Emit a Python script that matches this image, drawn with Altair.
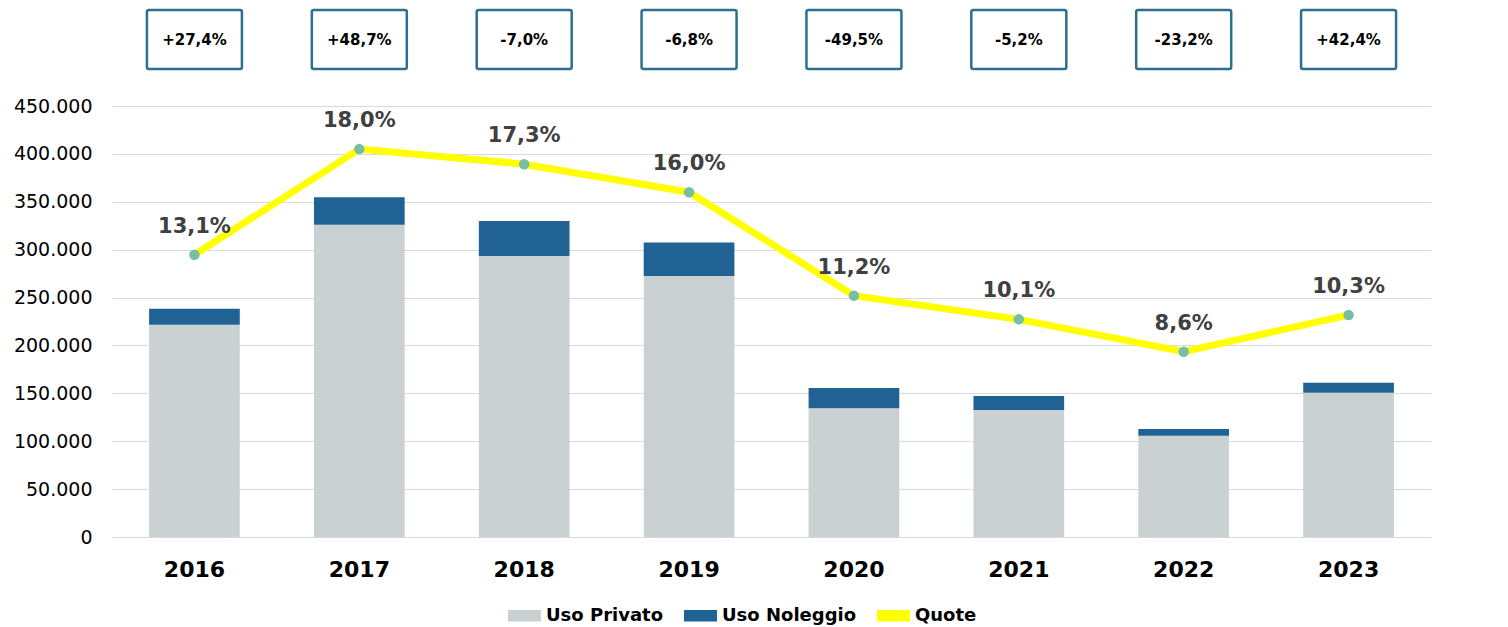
import altair as alt
import pandas as pd

anni = ["2016", "2017", "2018", "2019", "2020", "2021", "2022", "2023"]
uso_privato = [221600, 326000, 293400, 272500, 134300, 132600, 105800, 150700]
uso_noleggio = [16800, 28600, 36600, 35000, 21300, 14600, 7000, 10400]
quote = [0.131, 0.180, 0.173, 0.160, 0.112, 0.101, 0.086, 0.103]
variazioni = ["+27,4%", "+48,7%", "-7,0%", "-6,8%", "-49,5%", "-5,2%", "-23,2%", "+42,4%"]

FONT = "DejaVu Sans"
GREY = "#C9D1D3"
BLUE = "#1F6293"
YELLOW = "#FFFF00"
TEAL = "#77BEA4"

rows = []
for a, p, n in zip(anni, uso_privato, uso_noleggio):
    rows.append({"Anno": a, "Serie": "Uso Privato", "Valore": p, "ordine": 0})
    rows.append({"Anno": a, "Serie": "Uso Noleggio", "Valore": n, "ordine": 1})
bars_df = pd.DataFrame(rows)

line_df = pd.DataFrame({
    "Anno": anni,
    "Quota": quote,
    "Serie": ["Quote"] * len(anni),
    "Etichetta": [f"{q*100:.1f}%".replace(".", ",") for q in quote],
    "Var": variazioni,
})

color_scale = alt.Scale(domain=["Uso Privato", "Uso Noleggio", "Quote"],
                        range=[GREY, BLUE, YELLOW])

x_enc = alt.X("Anno:N", sort=anni, title=None,
              scale=alt.Scale(paddingInner=0.45, paddingOuter=0.225),
              axis=alt.Axis(labelAngle=0, labelFont=FONT, labelFontSize=22,
                            labelFontWeight="bold", labelColor="#000000",
                            labelPadding=22, ticks=False, domain=False, grid=False))

bars = alt.Chart(bars_df).mark_bar().encode(
    x=x_enc,
    y=alt.Y("sum(Valore):Q", title=None,
            scale=alt.Scale(domain=[0, 450000]),
            axis=alt.Axis(values=list(range(0, 450001, 50000)),
                          labelExpr="replace(format(datum.value, ',d'), ',', '.')",
                          labelFont=FONT, labelFontSize=19, labelColor="#000000",
                          labelPadding=20, ticks=False, domain=False,
                          gridColor="#D9D9D9", gridWidth=1.2)),
    color=alt.Color("Serie:N", scale=color_scale,
                    legend=alt.Legend(title=None, orient="none", direction="horizontal",
                                      legendX=396, legendY=493,
                                      labelFont=FONT, labelFontSize=18, labelFontWeight="bold",
                                      labelColor="#000000",
                                      symbolType="M-1,-0.35H1V0.35H-1Z", symbolSize=1089,
                                      symbolStrokeWidth=0, columnPadding=20, labelOffset=5)),
    order=alt.Order("ordine:Q", sort="ascending"),
)

y2_enc = alt.Y("Quota:Q", title=None, scale=alt.Scale(domain=[0, 0.20]),
               axis=alt.Axis(orient="right", values=[i / 100 for i in range(0, 21, 2)],
                             labelExpr="replace(format(datum.value, '.1%'), '.', ',')",
                             labelFont=FONT, labelFontSize=19, labelColor="#000000",
                             labelPadding=15, ticks=False, domain=False, grid=False))

line = alt.Chart(line_df).mark_line(strokeWidth=7, color=YELLOW).encode(
    x=alt.X("Anno:N", sort=anni),
    y=y2_enc,
    color=alt.Color("Serie:N", scale=color_scale),
)
points = alt.Chart(line_df).mark_point(filled=True, size=110, color=TEAL, opacity=1).encode(
    x=alt.X("Anno:N", sort=anni),
    y=alt.Y("Quota:Q", axis=None),
)
labels = alt.Chart(line_df).mark_text(font=FONT, fontSize=21, fontWeight="bold",
                                      color="#404040", dy=-28).encode(
    x=alt.X("Anno:N", sort=anni),
    y=alt.Y("Quota:Q", axis=None),
    text="Etichetta:N",
)

boxes = alt.Chart(line_df).mark_bar(width=95, fill="white", stroke="#2C6F8E",
                                    strokeWidth=2.5, cornerRadius=2).encode(
    x=alt.X("Anno:N", sort=anni),
    y=alt.value(-96),
    y2=alt.value(-37),
)
box_text = alt.Chart(line_df).mark_text(font=FONT, fontSize=15, fontWeight="bold",
                                        color="#000000").encode(
    x=alt.X("Anno:N", sort=anni),
    y=alt.value(-66),
    text="Var:N",
)

right = alt.layer(line, points, labels, boxes, box_text)

chart = alt.layer(bars, right).resolve_scale(y="independent").properties(
    width=1319, height=431, padding={"left": 5, "top": 0, "right": 5, "bottom": 5}
).configure_view(stroke=None)

chart.save("out.html", embed_options={"renderer": "svg", "actions": False})
